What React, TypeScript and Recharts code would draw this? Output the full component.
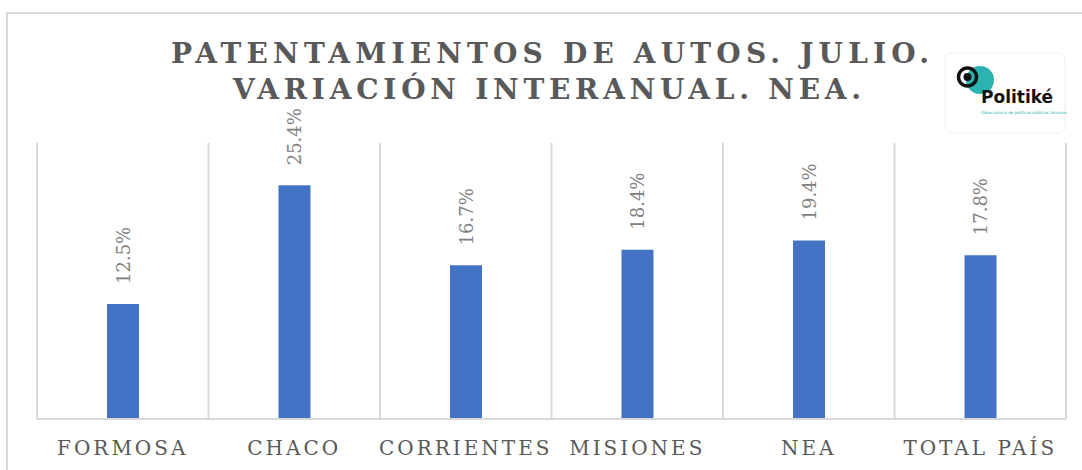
import React from "react";
import { BarChart, Bar, XAxis, YAxis, CartesianGrid, LabelList } from "recharts";

const categories = ["FORMOSA", "CHACO", "CORRIENTES", "MISIONES", "NEA", "TOTAL PAÍS"];
const variation = [12.5, 25.4, 16.7, 18.4, 19.4, 17.8];
const titleLines = ["PATENTAMIENTOS DE AUTOS. JULIO.", "VARIACIÓN INTERANUAL. NEA."];

const data = categories.map((c, i) => ({ name: c, v: variation[i] }));

const SERIF = "'DejaVu Serif', serif";

const Tick = (props: any) => {
  const { x, payload } = props;
  return (
    <text
      x={x}
      y={455}
      textAnchor="middle"
      fontFamily={SERIF}
      fontSize={20}
      letterSpacing={3}
      fill="#595959"
    >
      {payload.value}
    </text>
  );
};

const RotLabel = (props: any) => {
  const { x, y, width, value } = props;
  const cx = x + width / 2;
  const cy = y - 20;
  return (
    <text
      transform={`translate(${cx},${cy}) rotate(-90)`}
      x={0}
      y={0}
      textAnchor="start"
      dominantBaseline="central"
      fontFamily={SERIF}
      fontSize={18}
      fill="#808080"
    >
      {`${Number(value).toFixed(1)}%`}
    </text>
  );
};

export default function App() {
  return (
    <div
      style={{
        position: "absolute",
        left: 0,
        top: 0,
        width: 1082,
        height: 470,
        overflow: "hidden",
        background: "#fff",
      }}
    >
      <div
        style={{
          position: "absolute",
          left: 6,
          top: 12,
          width: 1100,
          height: 500,
          border: "2px solid #d9d9d9",
          boxSizing: "border-box",
        }}
      />
      <div style={{ position: "absolute", left: 0, top: 0 }}>
        <BarChart
          width={1082}
          height={470}
          data={data}
          margin={{ top: 143, right: 16, left: 37, bottom: 21 }}
        >
          <CartesianGrid
            horizontal={false}
            vertical={true}
            stroke="#d9d9d9"
            strokeWidth={2}
            verticalCoordinatesGenerator={({ offset }: any) =>
              categories
                .map((_, i) => offset.left + (i * offset.width) / categories.length)
                .concat([offset.left + offset.width])
            }
          />
          <XAxis
            dataKey="name"
            height={30}
            axisLine={{ stroke: "#d9d9d9", strokeWidth: 2 }}
            tickLine={false}
            tick={<Tick />}
            interval={0}
          />
          <YAxis hide domain={[0, 30]} width={0} />
          <Bar dataKey="v" fill="#4472C4" barSize={32} isAnimationActive={false}>
            <LabelList dataKey="v" content={<RotLabel />} />
          </Bar>
        </BarChart>
      </div>
      <svg
        width={1082}
        height={470}
        style={{ position: "absolute", left: 0, top: 0, pointerEvents: "none" }}
      >
        <text
          x={171}
          y={63}
          textLength={758}
          lengthAdjust="spacing"
          fontFamily={SERIF}
          fontWeight="bold"
          fontSize={28}
          fill="#595959"
        >
          {titleLines[0]}
        </text>
        <text
          x={233}
          y={99}
          textLength={628}
          lengthAdjust="spacing"
          fontFamily={SERIF}
          fontWeight="bold"
          fontSize={28}
          fill="#595959"
        >
          {titleLines[1]}
        </text>
        <g>
          <rect x={945} y={53} width={120} height={80} rx={6} fill="#ffffff" stroke="#eeeeee" strokeWidth={1} />
          <circle cx={980} cy={80} r={14} fill="#2bb3b1" />
          <circle cx={967.5} cy={77} r={9} fill="none" stroke="#111" strokeWidth={3.5} />
          <circle cx={967.5} cy={77} r={4} fill="#111" />
          <text x={981} y={103} fontFamily="'DejaVu Sans', sans-serif" fontWeight="bold" fontSize={17} fill="#111">
            Politiké
          </text>
          <text x={981} y={114} fontFamily="'DejaVu Sans', sans-serif" fontSize={4} fill="#2bb3b1">
            Observatorio de políticas públicas formosa
          </text>
        </g>
      </svg>
    </div>
  );
}
